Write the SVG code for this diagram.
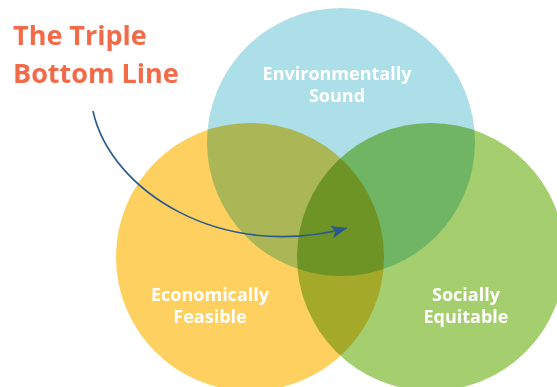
<svg xmlns="http://www.w3.org/2000/svg" width="557" height="387" viewBox="0 0 557 387">
<style>
.title{font-family:"Open Sans","Liberation Sans",sans-serif;font-weight:700;font-size:27px;fill:#F26A47}
.lbl{font-family:"Open Sans","Liberation Sans",sans-serif;font-weight:700;font-size:18px;fill:#FFFFFF;text-anchor:middle}
.c{mix-blend-mode:multiply}
</style>
<defs>
<marker id="ah" markerUnits="userSpaceOnUse" markerWidth="17" markerHeight="13" viewBox="0 0 17 13" refX="16" refY="6.5" orient="auto">
<path d="M0,0 L16,6.5 L0,13 L4,6.5 Z" fill="#2B5A8F"/>
</marker>
</defs>
<rect width="557" height="387" fill="#FFFFFF"/>
<g style="isolation:isolate">
<g id="environmental"><circle class="c" cx="341" cy="142" r="134" fill="#ADDFE8"/></g>
<g id="economic"><circle class="c" cx="250" cy="257" r="134" fill="#FDD05F"/></g>
<g id="social"><circle class="c" cx="431" cy="257" r="134" fill="#A5CF6E"/></g>
</g>
<g id="labels">
<text class="lbl" x="337" y="80">Environmentally</text>
<text class="lbl" x="337" y="102">Sound</text>
<text class="lbl" x="210" y="301">Economically</text>
<text class="lbl" x="210" y="323">Feasible</text>
<text class="lbl" x="466" y="301">Socially</text>
<text class="lbl" x="466" y="323">Equitable</text>
</g>
<g id="title">
<text class="title" x="13" y="45">The Triple</text>
<text class="title" x="13" y="83">Bottom Line</text>
</g>
<g id="connectors">
<path d="M93,111 C110,190 220,262 347,228" fill="none" stroke="#2B5A8F" stroke-width="1.6" marker-end="url(#ah)"/>
</g>
</svg>
